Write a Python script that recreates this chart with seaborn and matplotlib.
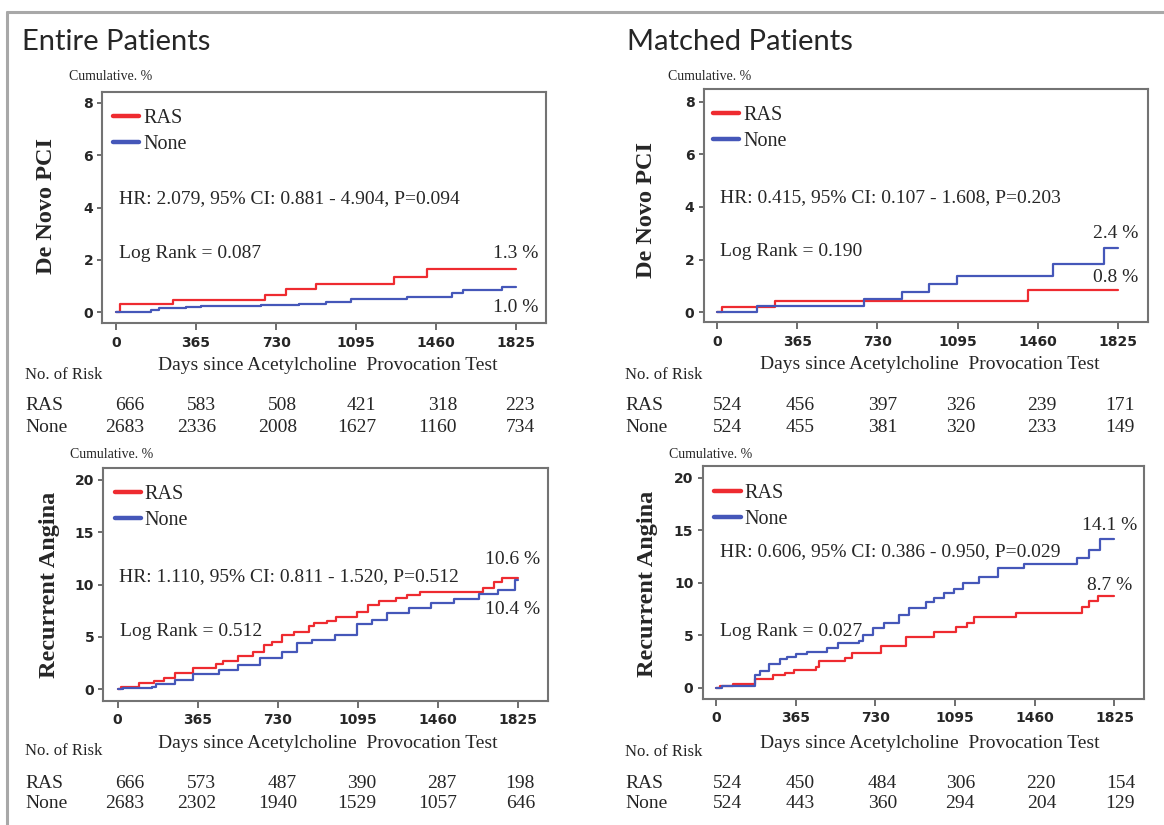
import matplotlib
matplotlib.use("Agg")
import matplotlib.pyplot as plt
from matplotlib.lines import Line2D
import seaborn as sns
import pandas as pd


# -------------------------------------------------------------------------------------------------------
# data (days since test, cumulative %)
# -------------------------------------------------------------------------------------------------------

# De Novo PCI - entire patients
pci_all_ras_days = [0, 17, 262, 679, 777, 912, 1267, 1419, 1825]
pci_all_ras_pct = [0, 0.31, 0.47, 0.66, 0.88, 1.08, 1.36, 1.65, 1.65]
pci_all_none_days = [0, 160, 194, 321, 389, 659, 836, 955, 1073, 1327, 1530, 1580, 1758, 1825]
pci_all_none_pct = [0, 0.08, 0.15, 0.19, 0.23, 0.29, 0.33, 0.38, 0.5, 0.57, 0.73, 0.85, 0.98, 0.98]

# De Novo PCI - matched patients
pci_match_ras_days = [0, 25, 265, 1416, 1825]
pci_match_ras_pct = [0, 0.22, 0.44, 0.85, 0.85]
pci_match_none_days = [0, 180, 668, 840, 966, 1092, 1527, 1760, 1825]
pci_match_none_pct = [0, 0.24, 0.49, 0.78, 1.08, 1.38, 1.84, 2.46, 2.46]

# Recurrent angina - entire patients
ang_all_ras_days = [0, 15, 100, 168, 210, 261, 346, 447, 481, 549, 617, 668, 702, 752, 803, 871, 896, 956,
                    998, 1091, 1142, 1193, 1269, 1320, 1379, 1667, 1718, 1752, 1825]
ang_all_ras_pct = [0, 0.25, 0.57, 0.83, 1.05, 1.53, 2.0, 2.4, 2.7, 3.15, 3.6, 4.2, 4.55, 5.2, 5.5, 6.0, 6.3, 6.5,
                   6.9, 7.4, 8.0, 8.45, 8.7, 9.0, 9.27, 9.65, 10.2, 10.6, 10.6]
ang_all_none_days = [0, 24, 159, 176, 261, 346, 464, 549, 651, 752, 820, 888, 990, 1091, 1159, 1227, 1328,
                     1430, 1532, 1650, 1735, 1811, 1825]
ang_all_none_pct = [0, 0.1, 0.25, 0.5, 0.9, 1.5, 1.85, 2.3, 2.95, 3.6, 4.4, 4.7, 5.2, 6.2, 6.6, 7.26, 7.74,
                    8.2, 8.6, 9.1, 9.5, 10.4, 10.4]

# Recurrent angina - matched patients
ang_match_ras_days = [0, 21, 79, 178, 260, 318, 359, 458, 474, 590, 623, 754, 870, 1001, 1100, 1150, 1183,
                      1372, 1677, 1710, 1751, 1825]
ang_match_ras_pct = [0, 0.16, 0.35, 0.8, 1.2, 1.43, 1.68, 2.0, 2.54, 2.8, 3.27, 4.0, 4.8, 5.33, 5.8, 6.13, 6.76,
                     7.08, 7.7, 8.28, 8.76, 8.76]
ang_match_none_days = [0, 30, 178, 203, 244, 293, 326, 367, 417, 507, 557, 656, 672, 721, 771, 837, 886, 960,
                       1001, 1043, 1092, 1133, 1207, 1290, 1413, 1652, 1710, 1759, 1825]
ang_match_none_pct = [0, 0.16, 1.2, 1.6, 2.25, 2.76, 2.95, 3.17, 3.4, 3.75, 4.22, 4.4, 5.0, 5.65, 6.13, 6.9, 7.56,
                      8.13, 8.5, 9.05, 9.37, 9.94, 10.57, 11.37, 11.78, 12.32, 13.1, 14.19, 14.19]

# numbers at risk
risk_all_pci_ras = [666, 583, 508, 421, 318, 223]
risk_all_pci_none = [2683, 2336, 2008, 1627, 1160, 734]
risk_match_pci_ras = [524, 456, 397, 326, 239, 171]
risk_match_pci_none = [524, 455, 381, 320, 233, 149]
risk_all_ang_ras = [666, 573, 487, 390, 287, 198]
risk_all_ang_none = [2683, 2302, 1940, 1529, 1057, 646]
risk_match_ang_ras = [524, 450, 484, 306, 220, 154]
risk_match_ang_none = [524, 443, 360, 294, 204, 129]

day_ticks = [0, 365, 730, 1095, 1460, 1825]
groups = ["RAS", "None"]

W, H = 1164, 825
RED = "#ee2b30"
BLUE = "#4557b9"
SERIF = ["Liberation Serif", "DejaVu Serif"]


def px(x, y):
    return x / W, 1 - y / H


def make_df(ras_days, ras_pct, none_days, none_pct):
    d1 = pd.DataFrame({"days": ras_days, "pct": ras_pct, "group": "RAS"})
    d2 = pd.DataFrame({"days": none_days, "pct": none_pct, "group": "None"})
    return pd.concat([d1, d2], ignore_index=True)


sns.set_theme(style="white")
plt.rcParams["font.family"] = SERIF

fig = plt.figure(figsize=(W / 100, H / 100), dpi=100)

# panel layout: axes box in pixels, limits, text positions
panels = [
    dict(box=(102.3, 91.7, 546, 323.3), xlim=(-62.5, 1960), ylim=(-0.42, 8.42), yticks=[0, 2, 4, 6, 8],
         data=(pci_all_ras_days, pci_all_ras_pct, pci_all_none_days, pci_all_none_pct),
         risk=(risk_all_pci_ras, risk_all_pci_none), ylabel="De Novo PCI", ylab_xy=(47, 206),
         leg=(113, 109), hr="HR: 2.079, 95% CI: 0.881 - 4.904, P=0.094", hr_xy=(119, 199),
         lr="Log Rank = 0.087", lr_xy=(119, 253),
         pcts=[("1.3 %", 538, 253), ("1.0 %", 538, 307)],
         cum_xy=(69, 77), xlab_xy=(328, 366), risk_title_y=375, risk_y=(405, 427),
         risk_left=25, risk_x=[144, 216, 297, 376, 457, 535]),
    dict(box=(703.6, 89.3, 1148.3, 322.3), xlim=(-61, 1963), ylim=(-0.38, 8.47), yticks=[0, 2, 4, 6, 8],
         data=(pci_match_ras_days, pci_match_ras_pct, pci_match_none_days, pci_match_none_pct),
         risk=(risk_match_pci_ras, risk_match_pci_none), ylabel="De Novo PCI", ylab_xy=(647, 210),
         leg=(713, 106), hr="HR: 0.415, 95% CI: 0.107 - 1.608, P=0.203", hr_xy=(720, 198),
         lr="Log Rank = 0.190", lr_xy=(720, 251),
         pcts=[("2.4 %", 1138, 233), ("0.8 %", 1138, 278)],
         cum_xy=(668, 77), xlab_xy=(930, 365), risk_title_y=375, risk_y=(405, 427),
         risk_left=625, risk_x=[742, 815, 897, 975, 1056, 1135]),
    dict(box=(103.3, 468.3, 548.3, 700.7), xlim=(-65, 1964), ylim=(-1.09, 21.1), yticks=[0, 5, 10, 15, 20],
         data=(ang_all_ras_days, ang_all_ras_pct, ang_all_none_days, ang_all_none_pct),
         risk=(risk_all_ang_ras, risk_all_ang_none), ylabel="Recurrent Angina", ylab_xy=(49, 585),
         leg=(114.5, 485), hr="HR: 1.110, 95% CI: 0.811 - 1.520, P=0.512", hr_xy=(119, 577),
         lr="Log Rank = 0.512", lr_xy=(120, 632),
         pcts=[("10.6 %", 540, 559), ("10.4 %", 540, 609)],
         cum_xy=(70, 455), xlab_xy=(328, 743), risk_title_y=751, risk_y=(783, 804),
         risk_left=25, risk_x=[144, 216, 297, 376, 457, 535]),
    dict(box=(702.5, 466, 1144.2, 699), xlim=(-61, 1961), ylim=(-1.08, 21.1), yticks=[0, 5, 10, 15, 20],
         data=(ang_match_ras_days, ang_match_ras_pct, ang_match_none_days, ang_match_none_pct),
         risk=(risk_match_ang_ras, risk_match_ang_none), ylabel="Recurrent Angina", ylab_xy=(648, 584),
         leg=(714.4, 484), hr="HR: 0.606, 95% CI: 0.386 - 0.950, P=0.029", hr_xy=(720, 552),
         lr="Log Rank = 0.027", lr_xy=(720, 631),
         pcts=[("14.1 %", 1137, 526), ("8.7 %", 1132, 586)],
         cum_xy=(669, 455), xlab_xy=(930, 743), risk_title_y=752, risk_y=(783, 803),
         risk_left=625, risk_x=[742, 815, 897, 975, 1056, 1135]),
]

for p in panels:
    x0, y0, x1, y1 = p["box"]
    ax = fig.add_axes([x0 / W, 1 - y1 / H, (x1 - x0) / W, (y1 - y0) / H])
    df = make_df(*p["data"])
    sns.lineplot(data=df, x="days", y="pct", hue="group", hue_order=groups,
                 palette={"RAS": RED, "None": BLUE}, estimator=None, sort=False,
                 drawstyle="steps-post", linewidth=1.6, ax=ax)

    ax.set_xlim(*p["xlim"])
    ax.set_ylim(*p["ylim"])
    ax.set_xticks(day_ticks)
    ax.set_yticks(p["yticks"])
    ax.set_xlabel("")
    ax.set_ylabel("")
    for s in ax.spines.values():
        s.set_visible(True)
        s.set_color("#737373")
        s.set_linewidth(1.5)
    ax.tick_params(axis="x", bottom=True, length=5, width=1.2, color="#555555", pad=4,
                   labelsize=10, labelfontfamily="DejaVu Sans")
    ax.tick_params(axis="y", left=True, length=3.6, width=1.2, color="#555555", pad=3,
                   labelsize=10, labelfontfamily="DejaVu Sans")
    for lab in ax.get_xticklabels() + ax.get_yticklabels():
        lab.set_fontweight("bold")

    lx, ly = px(*p["leg"])
    sns.move_legend(ax, "upper left", bbox_to_anchor=(lx, ly), bbox_transform=fig.transFigure,
                    frameon=False, title=None, borderpad=0, borderaxespad=0,
                    handlelength=1.3, handletextpad=0.2, labelspacing=0.36,
                    prop={"family": SERIF, "size": 14.5})
    for ln in ax.get_legend().get_lines():
        ln.set_linewidth(3.2)

    fig.text(*px(*p["hr_xy"]), p["hr"], ha="left", va="center", fontsize=14)
    fig.text(*px(*p["lr_xy"]), p["lr"], ha="left", va="center", fontsize=14)
    for txt, tx, ty in p["pcts"]:
        fig.text(*px(tx, ty), txt, ha="right", va="center", fontsize=14)

    fig.text(*px(*p["ylab_xy"]), p["ylabel"], rotation=90, ha="center", va="center",
             fontsize=17.5, fontweight="bold")
    fig.text(*px(*p["cum_xy"]), "Cumulative. %", ha="left", va="center", fontsize=10)
    fig.text(*px(*p["xlab_xy"]), "Days since Acetylcholine  Provocation Test",
             ha="center", va="center", fontsize=14)

    # number at risk table
    fig.text(*px(p["risk_left"], p["risk_title_y"]), "No. of Risk", ha="left", va="center", fontsize=12)
    for name, row, ry in zip(groups, p["risk"], p["risk_y"]):
        fig.text(*px(p["risk_left"], ry), name, ha="left", va="center", fontsize=14)
        for val, rx in zip(row, p["risk_x"]):
            fig.text(*px(rx, ry), str(val), ha="right", va="center", fontsize=14)

# column titles
fig.text(*px(22, 42), "Entire Patients", ha="left", va="center", fontsize=21, family=["Lato", "DejaVu Sans"])
fig.text(*px(627, 42), "Matched Patients", ha="left", va="center", fontsize=21, family=["Lato", "DejaVu Sans"])

# grey frame of the original slide
fig.add_artist(Line2D([7 / W, 1], [1 - 12 / H, 1 - 12 / H], color="#a8a8a8", linewidth=2.2,
                      transform=fig.transFigure))
fig.add_artist(Line2D([7 / W, 7 / W], [0, 1 - 12 / H], color="#a8a8a8", linewidth=2.2,
                      transform=fig.transFigure))

fig.savefig("out.png", dpi=100)
